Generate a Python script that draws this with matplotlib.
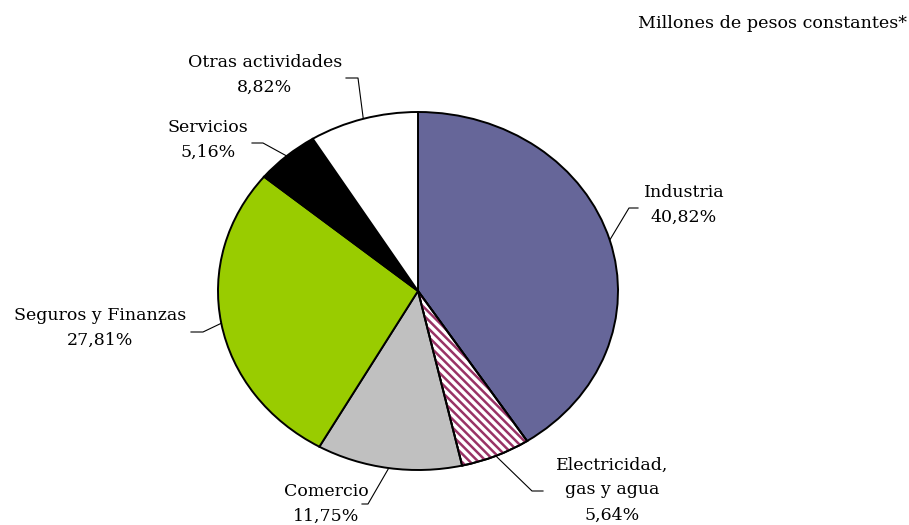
import numpy as np
import matplotlib
matplotlib.use("Agg")
import matplotlib.pyplot as plt
from matplotlib.patches import Wedge

# Sector shares (percent), clockwise from 12 o'clock
sectors = ['Industria', 'Electricidad,\ngas y agua', 'Comercio',
           'Seguros y Finanzas', 'Servicios', 'Otras actividades']
shares = [40.82, 5.64, 11.75, 27.81, 5.16, 8.82]
share_labels = ['40,82%', '5,64%', '11,75%', '27,81%', '5,16%', '8,82%']
colors = ['#666699', 'white', '#C0C0C0', '#99CC00', 'black', 'white']

plt.rcParams['font.family'] = 'DejaVu Serif'
plt.rcParams['hatch.linewidth'] = 1.8

W, H = 909, 525
fig = plt.figure(figsize=(W / 100, H / 100), dpi=100)
ax = fig.add_axes([0, 0, 1, 1])

# pie centre and radii in pixels (drawn slightly elliptical like the original)
cx, cy, rx, ry = 418, 291, 200, 179


def px(x, y):
    return ((x - cx) / rx, (cy - y) / ry)


wedges, _ = ax.pie(shares, colors=colors, startangle=90, counterclock=False,
                   radius=1, wedgeprops=dict(edgecolor='black', linewidth=1.4))

# hatch for Electricidad
w = wedges[1]
ax.add_patch(Wedge(w.center, w.r, w.theta1, w.theta2, facecolor='none',
                   edgecolor='#993366', hatch='\\\\\\\\', linewidth=0, zorder=w.get_zorder() + 0.1))
ax.add_patch(Wedge(w.center, w.r, w.theta1, w.theta2, facecolor='none',
                   edgecolor='black', linewidth=1.4, zorder=w.get_zorder() + 0.2))

ax.set_aspect('auto')
ax.set_xlim(px(0, 0)[0], px(W, 0)[0])
ax.set_ylim(px(0, H)[1], px(0, 0)[1])
ax.axis('off')

# label layout: elbow point, end of horizontal stub, text centre (pixels)
layout = [
    ((629, 208), (638, 208), (684, 205)),
    ((532, 491), (543, 491), (612, 490)),
    ((368, 504), (362, 504), (326, 504)),
    ((203, 332), (191, 332), (100, 328)),
    ((263, 143), (252, 143), (208, 140)),
    ((358, 78), (346, 78), (265, 75)),
]

for wd, name, lab, (elb, stub, txt) in zip(wedges, sectors, share_labels, layout):
    mid = np.deg2rad((wd.theta1 + wd.theta2) / 2)
    start = (np.cos(mid), np.sin(mid))
    e, s = px(*elb), px(*stub)
    ax.plot([start[0], e[0], s[0]], [start[1], e[1], s[1]], color='black', lw=0.8, zorder=0)
    t = px(*txt)
    ax.text(t[0], t[1], name + '\n' + lab, ha='center', va='center',
            fontsize=12.5, linespacing=1.62, color='black')

t = px(907, 23)
ax.text(t[0], t[1], 'Millones de pesos constantes*', ha='right', va='center', fontsize=12.6)

fig.savefig('out.png', dpi=100, facecolor='white')
